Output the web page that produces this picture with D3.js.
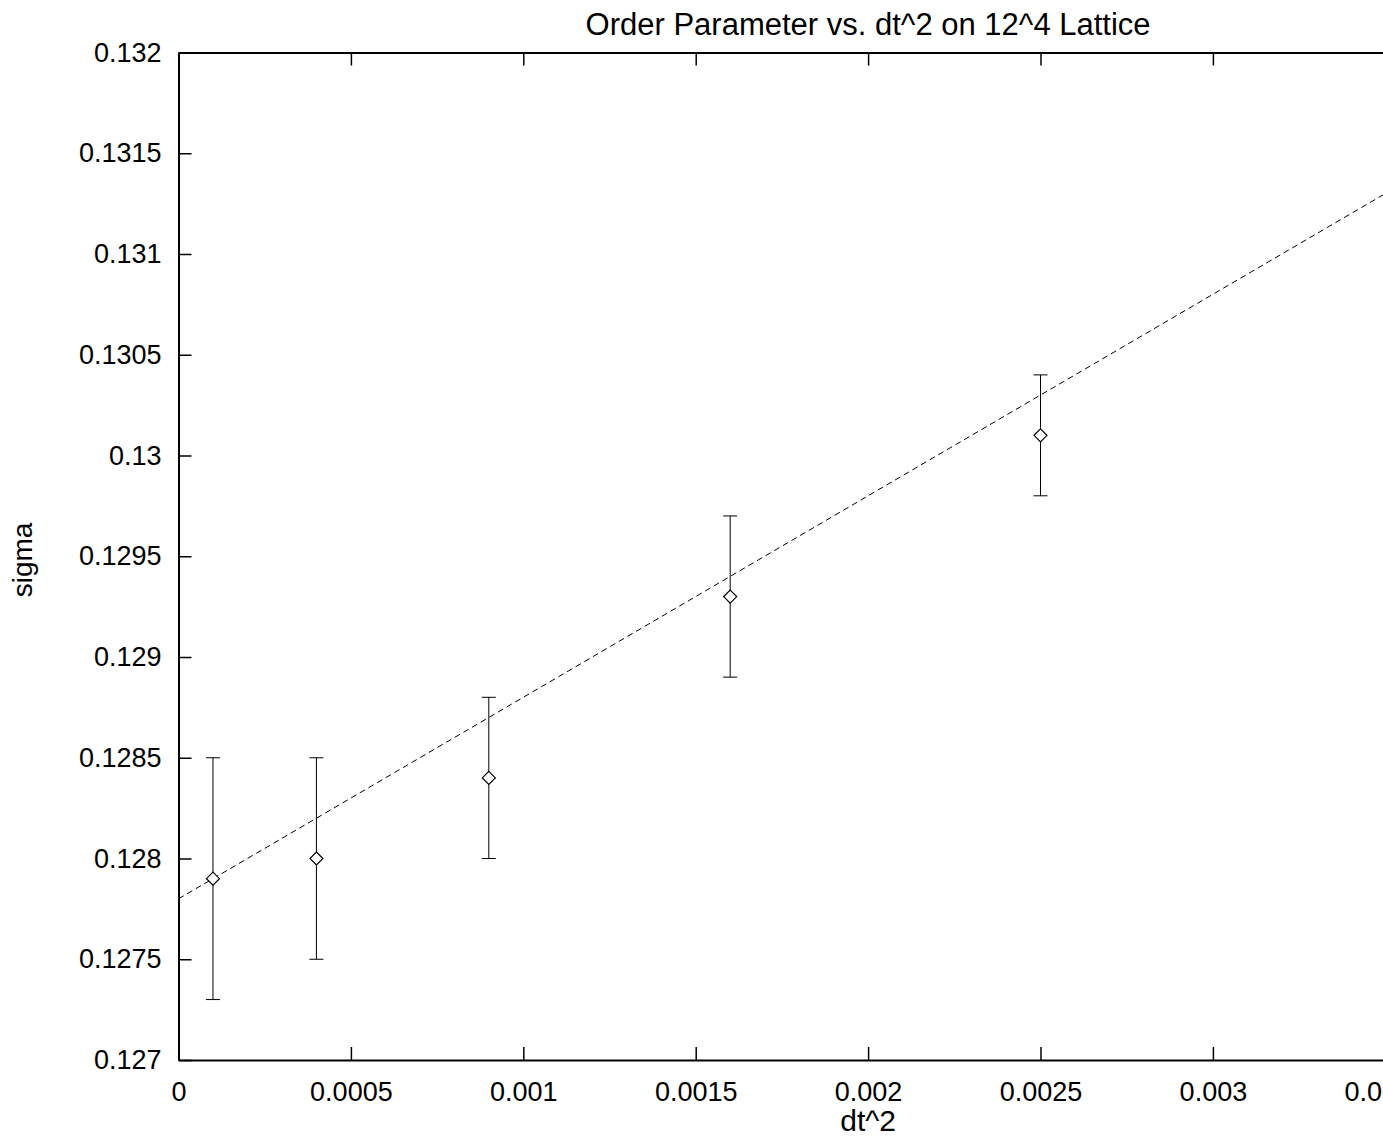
<!DOCTYPE html>
<html>
<head>
<meta charset="utf-8">
<script src="https://cdn.jsdelivr.net/npm/d3@7"></script>
<style>
  html, body { margin: 0; padding: 0; background: #fff; overflow: hidden; }
  svg { display: block; font-family: "Liberation Sans", Arial, sans-serif; }
</style>
</head>
<body>
<svg width="1383" height="1138"></svg>
<script>
// ---- data
const dt2 = [0.0001, 0.0004, 0.0009, 0.0016, 0.0025];
const sigma = [0.1279, 0.1280, 0.1284, 0.1293, 0.1301];
const sigmaLow = [0.1273, 0.1275, 0.1280, 0.1289, 0.1298];
const sigmaHigh = [0.1285, 0.1285, 0.1288, 0.1297, 0.1304];
// fitted line, end points
const fitX = [0, 0.004];
const fitY = [0.1278, 0.1318];
const xTicks = [0, 0.0005, 0.001, 0.0015, 0.002, 0.0025, 0.003, 0.0035, 0.004];
const yTicks = [0.127, 0.1275, 0.128, 0.1285, 0.129, 0.1295, 0.13, 0.1305, 0.131, 0.1315, 0.132];

const svg = d3.select('svg');

// ---- margens (plot continues past the right edge of the window)
const box = { left: 178.5, right: 1557.7, top: 52.5, bottom: 1060 };

const x = d3.scaleLinear().domain([0, 0.004]).range([box.left, box.right]);
const y = d3.scaleLinear().domain([0.127, 0.132]).range([box.bottom, box.top]);

const fmt = d => d === 0 ? '0' : String(+d.toPrecision(6));
const tickFont = 27;
const labelFont = 30;

// ---- eixos
const tickLen = 13;
svg.append('g')
    .attr('transform', `translate(0, ${box.bottom})`)
    .call(d3.axisBottom(x).tickValues(xTicks).tickFormat(fmt).tickSizeInner(-tickLen).tickSizeOuter(0).tickPadding(0))
    .call(g => g.select('.domain').attr('stroke-width', 2))
    .call(g => g.selectAll('.tick line').attr('stroke-width', 1.5))
    .call(g => g.selectAll('.tick text').attr('font-size', tickFont)
        .attr('font-family', 'Liberation Sans, Arial, sans-serif').attr('y', 41).attr('dy', null));

svg.append('g')
    .attr('transform', `translate(0, ${box.top})`)
    .call(d3.axisTop(x).tickValues(xTicks).tickFormat('').tickSizeInner(-tickLen).tickSizeOuter(0))
    .call(g => g.select('.domain').attr('stroke-width', 2))
    .call(g => g.selectAll('.tick line').attr('stroke-width', 1.5));

svg.append('g')
    .attr('transform', `translate(${box.left}, 0)`)
    .call(d3.axisLeft(y).tickValues(yTicks).tickFormat(fmt).tickSizeInner(-tickLen).tickSizeOuter(0).tickPadding(17))
    .call(g => g.select('.domain').attr('stroke-width', 2))
    .call(g => g.selectAll('.tick line').attr('stroke-width', 1.5))
    .call(g => g.selectAll('.tick text').attr('font-size', tickFont)
        .attr('font-family', 'Liberation Sans, Arial, sans-serif'));

svg.append('g')
    .attr('transform', `translate(${box.right}, 0)`)
    .call(d3.axisRight(y).tickValues(yTicks).tickFormat('').tickSizeInner(-tickLen).tickSizeOuter(0))
    .call(g => g.select('.domain').attr('stroke-width', 2))
    .call(g => g.selectAll('.tick line').attr('stroke-width', 1.5));

// ---- textos
const mid = (box.left + box.right) / 2;
svg.append('text')
    .attr('x', mid).attr('y', 35)
    .attr('text-anchor', 'middle').attr('font-size', 31)
    .text('Order Parameter vs. dt^2 on 12^4 Lattice');

svg.append('text')
    .attr('x', mid).attr('y', 1131)
    .attr('text-anchor', 'middle').attr('font-size', labelFont)
    .text('dt^2');

svg.append('text')
    .attr('transform', `translate(32, 560) rotate(-90)`)
    .attr('text-anchor', 'middle').attr('font-size', 28)
    .text('sigma');

// ---- linha do ajuste
const fit = fitX.map((v, i) => ({ x: v, y: fitY[i] }));
svg.append('path')
    .datum(fit)
    .attr('d', d3.line().x(d => x(d.x)).y(d => y(d.y)))
    .attr('fill', 'none')
    .attr('stroke', '#000')
    .attr('stroke-width', 1)
    .attr('stroke-dasharray', '6,4');

// ---- barras de erro
const pts = dt2.map((v, i) => ({ x: v, y: sigma[i], lo: sigmaLow[i], hi: sigmaHigh[i] }));
const cap = 7;
const eb = svg.append('g').attr('stroke', '#000').attr('stroke-width', 1).attr('fill', 'none');
eb.selectAll('line.v').data(pts).join('line').attr('class', 'v')
    .attr('x1', d => x(d.x)).attr('x2', d => x(d.x))
    .attr('y1', d => y(d.lo)).attr('y2', d => y(d.hi));
eb.selectAll('line.lo').data(pts).join('line').attr('class', 'lo')
    .attr('x1', d => x(d.x) - cap).attr('x2', d => x(d.x) + cap)
    .attr('y1', d => y(d.lo)).attr('y2', d => y(d.lo));
eb.selectAll('line.hi').data(pts).join('line').attr('class', 'hi')
    .attr('x1', d => x(d.x) - cap).attr('x2', d => x(d.x) + cap)
    .attr('y1', d => y(d.hi)).attr('y2', d => y(d.hi));

// ---- losangos
const r = 6.5;
svg.append('g').selectAll('path').data(pts).join('path')
    .attr('d', d => {
        const cx = x(d.x), cy = y(d.y);
        return `M${cx},${cy - r}L${cx + r},${cy}L${cx},${cy + r}L${cx - r},${cy}Z`;
    })
    .attr('fill', '#fff')
    .attr('stroke', '#000')
    .attr('stroke-width', 1.2);
</script>
</body>
</html>
